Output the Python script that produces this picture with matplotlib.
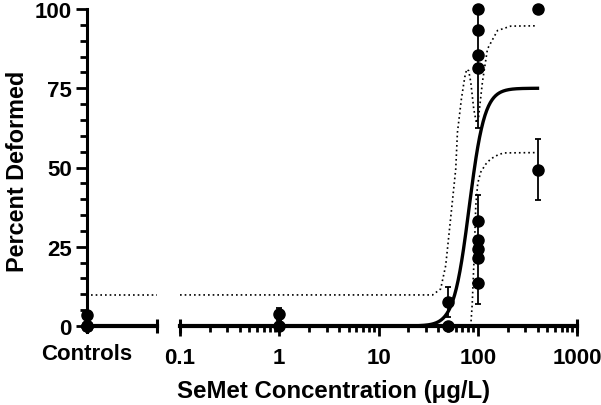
import numpy as np
import matplotlib
matplotlib.use("Agg")
import matplotlib.pyplot as plt

plt.rcParams['font.family'] = ['Liberation Sans', 'DejaVu Sans']
plt.rcParams['font.weight'] = 'bold'

# ---- data ----
control_vals = [0, 0, 3.5, 0]
conc_points = [1, 1, 50, 50, 100, 100, 100, 100, 100, 100, 100, 100, 100, 400, 400]
pct_points = [0, 3.8, 0, 7.5, 100, 93.4, 85.5, 81.4, 33, 27.2, 24.3, 21.4, 13.5, 100, 49.3]
err_conc = [1, 50, 100, 100, 400]
err_mean = [3.8, 7.5, 81.4, 24.1, 49.3]
err_sd = [2.0, 4.8, 19.0, 17.2, 9.6]

# fitted curve parameters
fit_top = 75.0
fit_ec50 = 82.0
fit_hill = 5.6

# confidence bands
upper_conc = [0.1, 35.1, 42.3, 47.5, 49.4, 60, 62.4, 68.4, 74, 77.4, 81, 85, 91.1, 97, 102, 111.5, 125.3, 158, 215, 400]
upper_val = [9.8, 9.8, 11.7, 19, 24, 49.5, 61, 71.6, 78.5, 81, 80.5, 77, 68.5, 64, 66, 77, 87.4, 93.2, 94.6, 94.7]
lower_conc = [85, 88, 92, 95.5, 100, 107, 120, 135, 160, 183, 400]
lower_val = [0, 7, 22, 38, 45, 48.5, 51, 52.7, 54, 54.6, 54.7]
ctrl_band = 9.8

fig = plt.figure(figsize=(6.01, 4.06), dpi=100)
W, H = 601, 406
y0_px, y100_px = 327, 10
ymin = -2.0
scale = (y0_px - y100_px) / 100.0
bottom_px = y0_px + (0 - ymin) * scale
ax_b = (H - bottom_px) / H
ax_h = (bottom_px - y100_px) / H

ax1 = fig.add_axes([87 / W, ax_b, 70 / W, ax_h])
ax2 = fig.add_axes([180 / W, ax_b, 397 / W, ax_h], sharey=ax1)

lw_axis = 3.0
for ax in (ax1, ax2):
    ax.spines['top'].set_visible(False)
    ax.spines['right'].set_visible(False)
    ax.spines['bottom'].set_position(('data', 0))
    ax.spines['bottom'].set_linewidth(lw_axis)
    ax.spines['left'].set_linewidth(2.2)
    ax.set_ylim(ymin, 100)
    ax.tick_params(axis='both', which='major', labelsize=16, width=2, length=7, direction='out')
    ax.tick_params(axis='both', which='minor', width=2, length=4.5, direction='out')

# controls axis
ax1.set_xlim(0, 1)
ax1.set_xticks([0])
ax1.set_xticklabels(['Controls'])
ax1.tick_params(axis='x', which='major', length=4, pad=8)
ax1.set_yticks([0, 25, 50, 75, 100])
ax1.set_yticks(np.arange(0, 101, 5), minor=True)
ax1.tick_params(axis='y', which='major', length=8, pad=3)
ax1.tick_params(axis='y', which='minor', length=5)
for lab in ax1.get_yticklabels() + ax1.get_xticklabels():
    lab.set_fontweight('bold')
ax1.plot([0.05, 1], [ctrl_band, ctrl_band], color='black', lw=1.2, ls=(0, (1, 1.8)))
ax1.plot([1, 1], [-2.2, 2.2], color='black', lw=2.2, clip_on=False, solid_capstyle='butt')
ax1.plot(np.zeros(len(control_vals)), control_vals, 'o', color='black', ms=8, clip_on=False, zorder=5)

# log axis
ax2.set_xscale('log')
ax2.set_xlim(0.1, 1000)
ax2.spines['left'].set_visible(False)
ax2.tick_params(axis='y', which='both', left=False, labelleft=False)
ax2.set_xticks([0.1, 1, 10, 100, 1000])
ax2.set_xticklabels(['0.1', '1', '10', '100', '1000'])
ax2.tick_params(axis='x', which='major', pad=8)
for lab in ax2.get_xticklabels():
    lab.set_fontweight('bold')
for xe in (0.1, 1000):
    ax2.plot([xe, xe], [-2.2, 2.2], color='black', lw=2.2, clip_on=False, solid_capstyle='butt')

xc = np.logspace(-1, np.log10(400), 600)
yc = fit_top / (1 + (fit_ec50 / xc) ** fit_hill)
ax2.plot(xc, yc, color='black', lw=2.4, zorder=4, clip_on=False)
ax2.plot(upper_conc, upper_val, color='black', lw=1.2, ls=(0, (1, 1.8)))
ax2.plot(lower_conc, lower_val, color='black', lw=1.2, ls=(0, (1, 1.8)))

ax2.errorbar(err_conc, err_mean, yerr=err_sd, fmt='none', ecolor='black', elinewidth=1.3, capsize=2, capthick=1.3, clip_on=False)
ax2.plot(conc_points, pct_points, 'o', color='black', ms=8, clip_on=False, zorder=5)

fig.text(334 / W, 1 - 392 / H, 'SeMet Concentration (\u03bcg/L)', ha='center', va='center', fontsize=17.3, fontweight='bold')
fig.text(18 / W, 1 - 171 / H, 'Percent Deformed', ha='center', va='center', rotation=90, fontsize=16.8, fontweight='bold')

fig.savefig('out.png', dpi=100)
